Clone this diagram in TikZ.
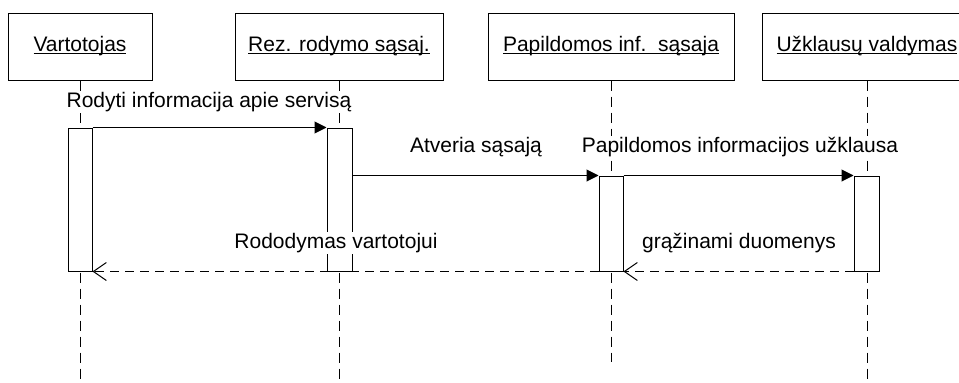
\documentclass[tikz,border=0pt]{standalone}
\usepackage{fontspec}
\setmainfont{Liberation Sans}
\usetikzlibrary{arrows.meta}
% underline set just below the baseline, through the descenders
\newcommand\headline[1]{\setbox0\hbox{#1}\rlap{\rule[-2.5pt]{\wd0}{1pt}}\box0}
\begin{document}
\begin{tikzpicture}[x=1pt,y=-1pt,line width=1pt,
  every node/.style={font=\fontsize{21}{25}\selectfont},
  headbox/.style={draw,fill=white,rectangle,minimum height=67pt,inner sep=0pt},
  actbox/.style={draw,fill=white,rectangle,inner sep=0pt},
  lifeline/.style={dash pattern=on 10pt off 6pt},
  call/.style={-{Triangle[length=12pt,width=12pt]}},
  reply/.style={dash pattern=on 9pt off 6pt,-{Straight Barb[length=13pt,width=18pt]}},
  msg/.style={fill=white,inner sep=1.5pt}]
\useasboundingbox (0,0) rectangle (959,383);
\clip (0,0) rectangle (959,383);

% object heads
\node[headbox,minimum width=144pt] (h1) at (80,46.5) {\headline{Vartotojas}};
\node[headbox,minimum width=208pt] (h2) at (339,46.5) {\headline{Rez. rodymo sąsaj.}};
\node[headbox,minimum width=246pt] (h3) at (611,46.5) {\headline{Papildomos inf.\ \ sąsaja}};
\node[headbox,minimum width=210pt] (h4) at (867,46.5) {\headline{Užklausų valdymas}};

% lifelines
\coordinate (e1) at (80,383);
\coordinate (e2) at (339,383);
\coordinate (e3) at (611,362);
\coordinate (e4) at (867,383);
\draw[lifeline] (h1.south) -- (e1);
\draw[lifeline] (h2.south) -- (e2);
\draw[lifeline] (h3.south) -- (e3);
\draw[lifeline] (h4.south) -- (e4);

% activations
\node[actbox,minimum width=24pt,minimum height=143pt] (a1) at (80,199.5) {};
\node[actbox,minimum width=25pt,minimum height=143pt] (a2) at (339.5,199.5) {};
\node[actbox,minimum width=24pt,minimum height=95pt] (a3) at (611,223.5) {};
\node[actbox,minimum width=25pt,minimum height=95pt] (a4) at (866.5,223.5) {};

% messages
\draw[call] (a1.north east) -- (a2.north west);
\draw[call] (a2.east |- a3.north) -- (a3.north west);
\draw[call] (a3.north east) -- (a4.north west);
\draw[reply] (a4.south west) -- (a3.south east);
\draw[reply] (a3.south west) -- (a1.south east);

% message labels
\node[msg] (m1) at (209,102) {Rodyti informacija apie servisą};
\node[msg] (m2) at (476,147) {Atveria sąsają};
\node[msg] (m3) at (740,147) {Papildomos informacijos užklausa};
\node[msg] (m4) at (739,243) {grąžinami duomenys};
\node[msg] (m5) at (336,243) {Rododymas vartotojui};
\end{tikzpicture}
\end{document}
